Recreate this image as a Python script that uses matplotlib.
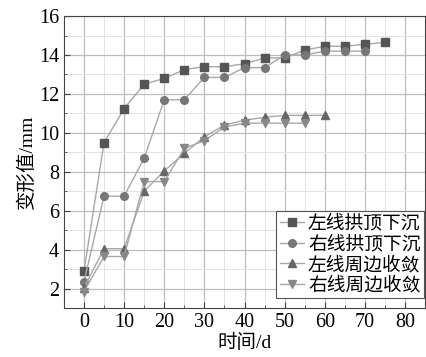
import matplotlib.pyplot as plt
from matplotlib.ticker import MultipleLocator

plt.rcParams['font.family'] = ['Liberation Serif', 'Noto Sans CJK SC']

# 监测数据
t_lc = [0, 5, 10, 15, 20, 25, 30, 35, 40, 45, 50, 55, 60, 65, 70, 75]
left_crown = [2.9, 9.5, 11.25, 12.5, 12.8, 13.25, 13.4, 13.4, 13.55, 13.85, 13.85, 14.25, 14.45, 14.45, 14.55, 14.65]

t_rc = [0, 5, 10, 15, 20, 25, 30, 35, 40, 45, 50, 55, 60, 65, 70]
right_crown = [2.35, 6.75, 6.75, 8.7, 11.7, 11.7, 12.85, 12.85, 13.35, 13.35, 14.0, 14.0, 14.2, 14.2, 14.2]

t_lp = [0, 5, 10, 15, 20, 25, 30, 35, 40, 45, 50, 55, 60]
left_perim = [2.05, 4.05, 4.05, 7.0, 8.05, 8.95, 9.8, 10.4, 10.65, 10.8, 10.9, 10.9, 10.9]

t_rp = [0, 5, 10, 15, 20, 25, 30, 35, 40, 45, 50, 55]
right_perim = [1.85, 3.65, 3.65, 7.5, 7.5, 9.2, 9.6, 10.3, 10.5, 10.5, 10.5, 10.5]

labels = ['左线拱顶下沉', '右线拱顶下沉', '左线周边收敛', '右线周边收敛']

fig = plt.figure(figsize=(4.26, 3.57), dpi=100)
ax = fig.add_axes([0.150, 0.137, 0.848, 0.818])

lc = '#a8a8a8'
ax.plot(t_lc, left_crown, '-s', color=lc, mfc='#555555', mec='#555555', ms=5.5, lw=1, label=labels[0])
ax.plot(t_rc, right_crown, '-o', color=lc, mfc='#777777', mec='#777777', ms=5.5, lw=1, label=labels[1])
ax.plot(t_lp, left_perim, '-^', color=lc, mfc='#666666', mec='#666666', ms=6, lw=1, label=labels[2])
ax.plot(t_rp, right_perim, '-v', color=lc, mfc='#888888', mec='#888888', ms=6, lw=1, label=labels[3])

ax.set_xlim(-5, 85)
ax.set_ylim(1, 16)
ax.xaxis.set_major_locator(MultipleLocator(10))
ax.xaxis.set_minor_locator(MultipleLocator(5))
ax.yaxis.set_major_locator(MultipleLocator(2))
ax.yaxis.set_minor_locator(MultipleLocator(1))
ax.grid(which='major', color='#bdbdbd', lw=0.9)
ax.grid(which='minor', color='#e3e3e3', lw=0.7)
ax.set_axisbelow(True)
ax.tick_params(which='both', direction='in', labelsize=14.5, color='#444444')
ax.tick_params(which='major', length=4)
ax.tick_params(which='minor', length=2)
for s in ax.spines.values():
    s.set_color('#444444')

ax.set_xlabel('时间/d', fontsize=14, labelpad=1)
ax.set_ylabel('变形值/mm', fontsize=14, labelpad=2)

leg = ax.legend(loc='lower right', bbox_to_anchor=(1.0, 0.03), fontsize=13.5, frameon=True,
                fancybox=False, edgecolor='#555555', framealpha=1, borderpad=0.2,
                labelspacing=0.15, handlelength=1.3, handletextpad=0.2, borderaxespad=0.05)
leg.get_frame().set_linewidth(0.8)

fig.savefig('out.png', dpi=100)
